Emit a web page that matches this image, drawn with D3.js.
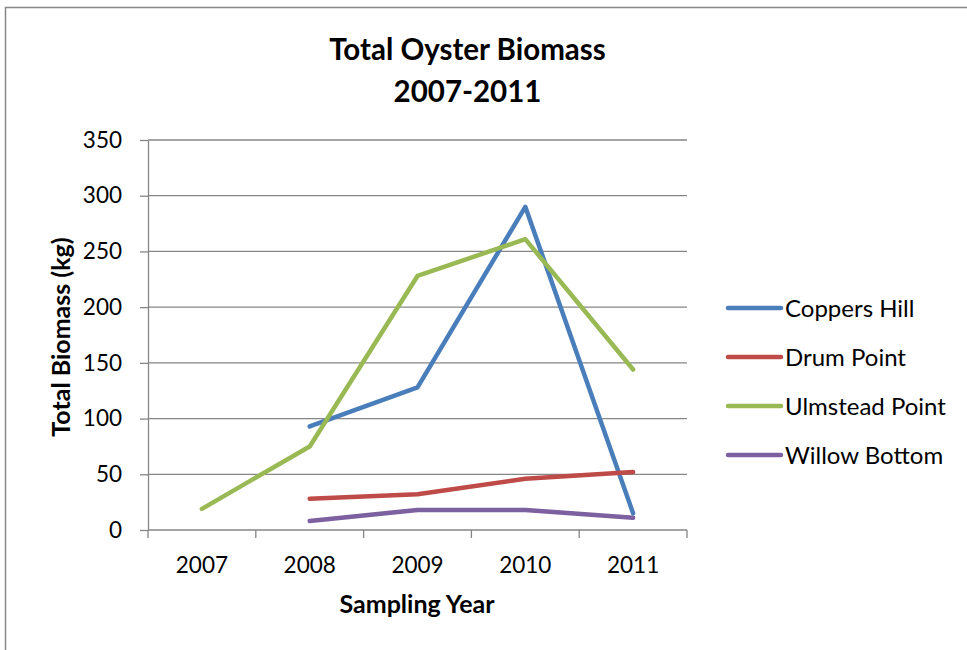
<!DOCTYPE html>
<html>
<head>
<meta charset="utf-8">
<script src="https://cdn.jsdelivr.net/npm/d3@7"></script>
<style>
  html, body { margin: 0; padding: 0; background: #fff; }
  svg { display: block; font-family: Lato, "Open Sans", sans-serif; }
</style>
</head>
<body>
<svg id="chart" width="967" height="650"></svg>
<script>
// Sampling years on the category axis
const years = ["2007", "2008", "2009", "2010", "2011"];

// Total biomass (kg) per site; null where the site was not sampled
const coppersHill    = [null, 93, 128, 290, 15];
const drumPoint      = [null, 28, 32, 46, 52];
const ulmsteadPoint  = [19, 75, 228, 261, 144];
const willowBottom   = [null, 8, 18, 18, 11];

const siteNames  = ["Coppers Hill", "Drum Point", "Ulmstead Point", "Willow Bottom"];
const siteColors = ["#4A7EBB", "#BE4B48", "#98B954", "#7D60A0"];
const yTicks     = [0, 50, 100, 150, 200, 250, 300, 350];

const series = [coppersHill, drumPoint, ulmsteadPoint, willowBottom].map((vals, i) => ({
  name: siteNames[i], color: siteColors[i], values: vals
}));

const svg = d3.select("#chart");

// outer chart frame
svg.append("rect")
  .attr("x", 5.5).attr("y", 7.5).attr("width", 975).attr("height", 660)
  .attr("fill", "#fff").attr("stroke", "#888").attr("stroke-width", 1.5);

const plot = { left: 148, right: 687, top: 140, bottom: 530 };

const x = d3.scaleBand().domain(years).range([plot.left, plot.right]).paddingInner(0).paddingOuter(0);
const y = d3.scaleLinear().domain([0, 350]).range([plot.bottom, plot.top]);

// horizontal gridlines
svg.append("g").selectAll("line").data(yTicks.filter(t => t > 0)).join("line")
  .attr("x1", plot.left).attr("x2", plot.right)
  .attr("y1", d => y(d)).attr("y2", d => y(d))
  .attr("stroke", "#868686").attr("stroke-width", 1.3);

// y axis
const yAxis = svg.append("g").attr("transform", `translate(${plot.left},0)`)
  .call(d3.axisLeft(y).tickValues(yTicks).tickSize(8).tickPadding(18).tickSizeOuter(0));
yAxis.select(".domain").attr("stroke", "#868686").attr("stroke-width", 1.3);
yAxis.selectAll(".tick line").attr("stroke", "#868686").attr("stroke-width", 1.3);
yAxis.selectAll(".tick text").attr("fill", "#000").style("font-size", "22.5px")
  .style("font-family", "Lato, sans-serif");

// x axis, with tick marks on the category boundaries
const xAxisG = svg.append("g").attr("transform", `translate(0,${plot.bottom})`);
xAxisG.append("line").attr("x1", plot.left).attr("x2", plot.right)
  .attr("stroke", "#868686").attr("stroke-width", 1.3);
const boundaries = years.map(d => x(d)).concat([x(years[years.length - 1]) + x.bandwidth()]);
xAxisG.selectAll("line.bound").data(boundaries).join("line").attr("class", "bound")
  .attr("x1", d => d).attr("x2", d => d).attr("y1", 0).attr("y2", 8)
  .attr("stroke", "#868686").attr("stroke-width", 1.3);
xAxisG.selectAll("text").data(years).join("text")
  .attr("x", d => x(d) + x.bandwidth() / 2).attr("y", 43)
  .attr("text-anchor", "middle").style("font-size", "22.5px").text(d => d);

// site lines
const line = d3.line()
  .defined(d => d != null)
  .x((d, i) => x(years[i]) + x.bandwidth() / 2)
  .y(d => y(d));

svg.append("g").selectAll("path").data(series).join("path")
  .attr("d", s => line(s.values))
  .attr("fill", "none").attr("stroke", s => s.color)
  .attr("stroke-width", 4.5).attr("stroke-linecap", "round").attr("stroke-linejoin", "round");

// titles
svg.append("text").attr("x", 467.5).attr("y", 60).attr("text-anchor", "middle")
  .style("font-size", "29.5px").style("font-weight", "bold").text("Total Oyster Biomass");
svg.append("text").attr("x", 467.5).attr("y", 102).attr("text-anchor", "middle")
  .style("font-size", "29.5px").style("font-weight", "bold").text("2007-2011");

svg.append("text").attr("x", 417).attr("y", 613).attr("text-anchor", "middle")
  .style("font-size", "25px").style("font-weight", "bold").text("Sampling Year");

svg.append("text").attr("transform", "translate(70,337) rotate(-90)").attr("text-anchor", "middle")
  .style("font-size", "25px").style("font-weight", "bold").text("Total Biomass (kg)");

// legend
const legend = svg.append("g").selectAll("g").data(series).join("g")
  .attr("transform", (d, i) => `translate(728,${308 + i * 49})`);
legend.append("line").attr("x1", 0).attr("x2", 53)
  .attr("stroke", d => d.color).attr("stroke-width", 4.5).attr("stroke-linecap", "round");
legend.append("text").attr("x", 57).attr("y", 9).style("font-size", "24px").text(d => d.name);
</script>
</body>
</html>
